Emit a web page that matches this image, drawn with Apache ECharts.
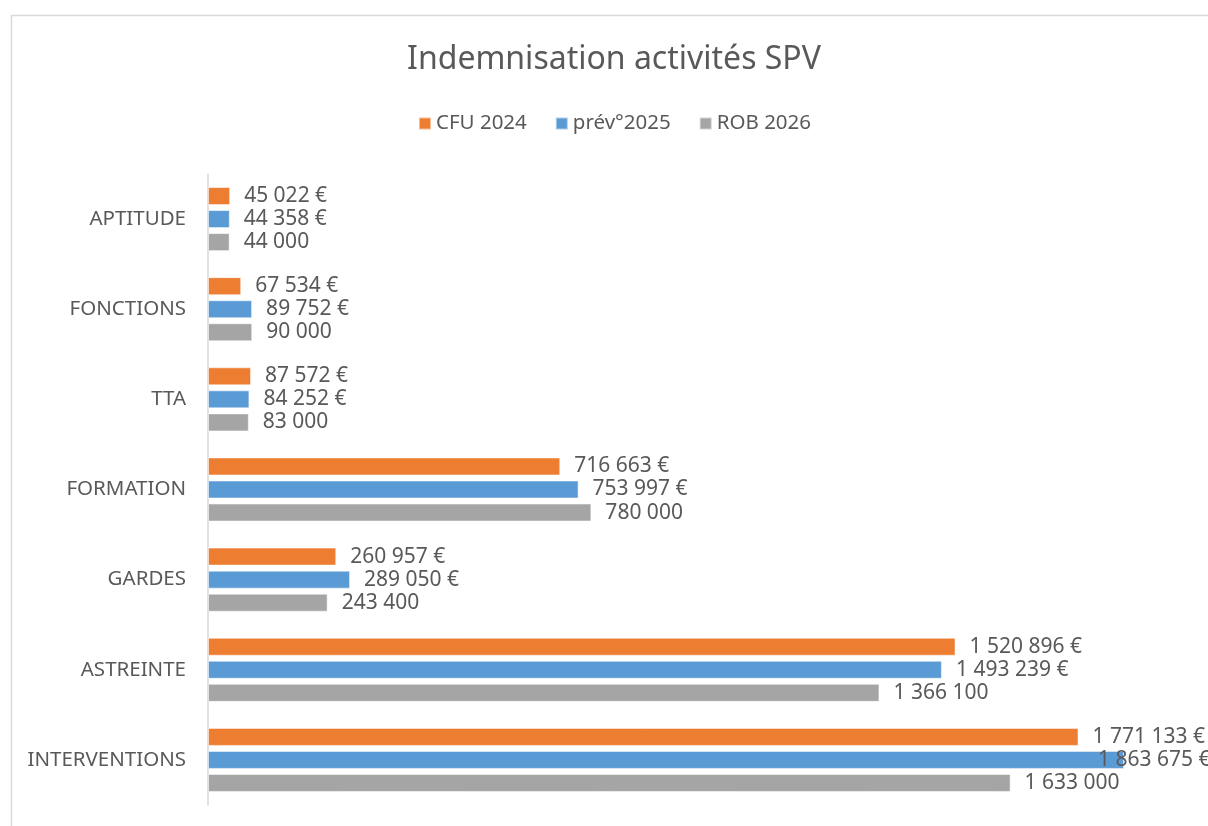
<!DOCTYPE html>
<html>
<head>
<meta charset="utf-8">
<script src="https://cdn.jsdelivr.net/npm/echarts@6/dist/echarts.min.js"></script>
<style>
  html, body { margin: 0; padding: 0; background: #fff; }
  #chart { width: 1208px; height: 826px; }
</style>
</head>
<body>
<div id="chart"></div>
<script>
// categories, top to bottom
var categories = ["APTITUDE", "FONCTIONS", "TTA", "FORMATION", "GARDES", "ASTREINTE", "INTERVENTIONS"];
var seriesNames = ["CFU 2024", "prév°2025", "ROB 2026"];
var cfu2024 = [45022, 67534, 87572, 716663, 260957, 1520896, 1771133];
var prev2025 = [44358, 89752, 84252, 753997, 289050, 1493239, 1863675];
var rob2026 = [44000, 90000, 83000, 780000, 243400, 1366100, 1633000];
var colors = ["#ED7D31", "#5B9BD5", "#A5A5A5"];

var textColor = "#595959";
var font = "'Noto Sans', 'Liberation Sans', sans-serif";

function fmt(v) {
  return String(v).replace(/\B(?=(\d{3})+(?!\d))/g, " ");
}

var chart = echarts.init(document.getElementById('chart'));

function makeSeries(name, values, color, euro) {
  return {
    name: name,
    type: 'bar',
    barWidth: 18,
    barGap: '28%',
    barCategoryGap: '30%',
    itemStyle: { color: color, borderColor: 'rgba(255,255,255,0.5)', borderWidth: 1 },
    label: {
      show: true,
      position: 'right',
      distance: 14,
      color: textColor,
      fontFamily: font,
      fontSize: 21,
      formatter: function (p) { return fmt(p.value) + (euro ? " €" : ""); }
    },
    data: values.map(function (v) {
      // excel keeps the widest label inside the chart area
      if (v > 1800000) {
        return { value: v, label: { offset: [-40, 0] } };
      }
      return v;
    })
  };
}

var option = {
  animation: false,
  backgroundColor: '#fff',
  color: colors,
  title: {
    text: 'Indemnisation activités SPV',
    left: 609,
    textAlign: 'center',
    top: 39,
    textStyle: { color: textColor, fontFamily: font, fontSize: 32, fontWeight: 'normal' }
  },
  legend: {
    top: 108,
    left: 413,
    itemWidth: 12,
    itemHeight: 12,
    itemGap: 28,
    icon: 'rect',
    textStyle: { color: textColor, fontFamily: font, fontSize: 20.5 },
    data: seriesNames
  },
  grid: { left: 208, right: 17, top: 174, bottom: 21, containLabel: false },
  xAxis: {
    type: 'value',
    min: 0,
    max: 2000000,
    show: false
  },
  yAxis: {
    type: 'category',
    inverse: true,
    data: categories,
    axisLine: { lineStyle: { color: '#D9D9D9', width: 1.5 } },
    axisTick: { show: false },
    axisLabel: { color: textColor, fontFamily: font, fontSize: 20.5, margin: 22 }
  },
  graphic: [{
    type: 'rect',
    left: 9, top: 13,
    shape: { width: 1230, height: 840 },
    style: { fill: null, stroke: '#D9D9D9', lineWidth: 1.5 },
    silent: true
  }],
  series: [
    makeSeries(seriesNames[0], cfu2024, colors[0], true),
    makeSeries(seriesNames[1], prev2025, colors[1], true),
    makeSeries(seriesNames[2], rob2026, colors[2], false)
  ]
};

chart.setOption(option);
</script>
</body>
</html>
